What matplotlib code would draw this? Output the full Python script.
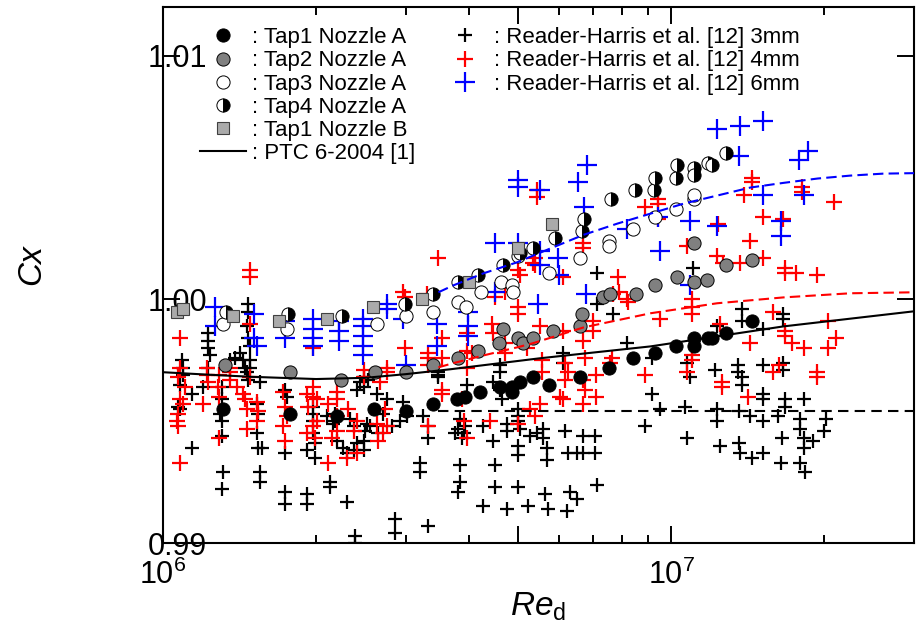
import matplotlib
matplotlib.use("Agg")
import matplotlib.pyplot as plt
from matplotlib.ticker import LogLocator, NullFormatter

plt.rcParams['font.family'] = ['Liberation Sans', 'DejaVu Sans']
plt.rcParams['mathtext.fontset'] = 'custom'
plt.rcParams['mathtext.rm'] = 'Liberation Sans'
plt.rcParams['mathtext.it'] = 'Liberation Sans:italic'

# (Re in millions, Cx)
tap1_a = [(1.31, 0.9955), (1.78, 0.9953), (2.20, 0.9952), (2.60, 0.9955), (3.01, 0.9954),
          (3.40, 0.9957), (3.79, 0.9959), (3.93, 0.9960), (4.20, 0.9962), (4.60, 0.9964),
          (4.86, 0.9964), (4.86, 0.9962), (5.04, 0.9966), (5.34, 0.9968), (5.75, 0.9965),
          (6.62, 0.9968), (7.55, 0.9972), (8.42, 0.9976), (9.30, 0.9978), (10.19, 0.9981),
          (11.06, 0.9981), (11.06, 0.9984), (11.78, 0.9984), (12.04, 0.9984), (12.83, 0.9986),
          (14.43, 0.9991)]
tap2_a = [(1.325, 0.9973), (1.78, 0.9970), (2.24, 0.9967), (2.61, 0.9970), (3.01, 0.9970),
          (3.40, 0.9973), (3.81, 0.9976), (4.17, 0.9979), (4.57, 0.9982), (4.67, 0.9988),
          (4.98, 0.9984), (5.11, 0.9982), (5.34, 0.9984), (5.86, 0.9987), (6.62, 0.9989),
          (6.68, 0.9994), (7.35, 1.0001), (7.58, 1.0002), (8.50, 1.0002), (9.30, 1.0006),
          (10.27, 1.0009), (11.06, 1.0007), (11.73, 1.0008), (11.06, 1.0023), (12.83, 1.0014),
          (14.43, 1.0016)]
tap3_a = [(1.31, 0.9990), (1.755, 0.9988), (2.64, 0.9990), (3.01, 0.9993), (3.40, 0.9995),
          (3.81, 0.9999), (3.95, 0.9997), (4.23, 1.0003), (4.63, 1.0007), (4.86, 1.0006),
          (4.88, 1.0003), (4.98, 1.0018), (5.75, 1.0011), (6.62, 1.0017), (7.55, 1.0024),
          (7.55, 1.0022), (8.42, 1.0029), (9.30, 1.0034), (10.19, 1.0037), (11.06, 1.0041),
          (11.06, 1.0043)]
tap4_a = [(1.33, 0.9995), (1.763, 0.9994), (2.25, 0.9993), (2.99, 0.9998), (3.40, 1.0002),
          (3.81, 1.0007), (4.17, 1.0010), (4.67, 1.0014), (5.04, 1.0019), (5.34, 1.0021),
          (5.89, 1.0025), (6.68, 1.0028), (6.72, 1.0033), (7.62, 1.0041), (8.46, 1.0045),
          (9.26, 1.0045), (9.30, 1.0050), (10.19, 1.0050), (10.27, 1.0055), (11.06, 1.0054),
          (11.06, 1.0051), (11.78, 1.0056), (12.04, 1.0055), (12.83, 1.0060)]
tap1_b = [(1.066, 0.9995), (1.095, 0.9996), (1.374, 0.9993), (1.69, 0.9991), (2.10, 0.9992),
          (2.59, 0.9997), (3.23, 1.0000), (4.00, 1.0007), (4.99, 1.0021), (5.81, 1.0031)]

rh_3mm = [(1.070, 0.9956), (1.080, 0.9965), (1.080, 0.9955), (1.090, 0.9975), (1.095, 0.9972),
          (1.095, 0.9969), (1.140, 0.9961), (1.140, 0.9939), (1.199, 0.9964), (1.226, 0.9986),
          (1.226, 0.9983), (1.226, 0.9980), (1.237, 0.9977), (1.226, 0.9972), (1.307, 0.9964),
          (1.307, 0.9959), (1.295, 0.9953), (1.307, 0.9950), (1.307, 0.9944), (1.313, 0.9929),
          (1.307, 0.9922), (1.355, 0.9975), (1.386, 0.9976), (1.418, 0.9978), (1.437, 0.9975),
          (1.450, 0.9972), (1.463, 0.9970), (1.470, 0.9967), (1.483, 0.9975), (1.483, 0.9972),
          (1.470, 0.9998), (1.470, 0.9995), (1.463, 0.9989), (1.470, 0.9984), (1.483, 0.9981),
          (1.552, 0.9966), (1.532, 0.9957), (1.539, 0.9953), (1.532, 0.9945), (1.539, 0.9939),
          (1.566, 0.9939), (1.552, 0.9929), (1.552, 0.9925), (1.738, 0.9963), (1.755, 0.9960),
          (1.738, 0.9937), (1.738, 0.9921), (1.738, 0.9916), (1.921, 0.9938), (1.921, 0.9920),
          (1.921, 0.9916), (1.973, 0.9956), (1.973, 0.9953), (1.973, 0.9950), (1.973, 0.9945),
          (1.991, 0.9941), (1.991, 0.9935),
          (2.10, 0.9952), (2.16, 0.9949), (2.18, 0.9953), (2.18, 0.9950), (2.20, 0.9942),
          (2.26, 0.9939), (2.30, 0.9937), (2.30, 0.9917), (2.13, 0.9925), (2.13, 0.9923),
          (2.33, 0.9951), (2.37, 0.9948), (2.37, 0.9938), (2.41, 0.9941), (2.41, 0.9963),
          (2.44, 0.9966), (2.48, 0.9968), (2.48, 0.9964), (2.48, 0.9942), (2.48, 0.9938),
          (2.50, 0.9946), (2.52, 0.9949), (2.53, 0.9967), (2.55, 0.9948), (2.64, 0.9961),
          (2.65, 0.9945), (2.71, 0.9953), (2.76, 0.9959), (2.82, 0.9948), (2.86, 0.9910),
          (2.86, 0.9904), (2.93, 0.9950), (2.97, 0.9958), (3.02, 0.9952), (3.20, 0.9933),
          (3.20, 0.9929), (3.25, 0.9952), (3.32, 0.9948), (3.32, 0.9943), (3.32, 0.9907),
          (2.39, 0.9903), (2.39, 0.9900), (3.48, 0.9970), (3.48, 0.9969), (3.48, 0.9968),
          (3.76, 0.9945), (3.81, 0.9947), (3.84, 0.9951), (3.84, 0.9932), (3.84, 0.9925),
          (3.81, 0.9921), (3.90, 0.9945), (3.93, 0.9948),
          (3.97, 0.9965), (4.46, 0.9966), (4.60, 0.9973), (4.60, 0.9970), (4.60, 0.9963),
          (4.64, 0.9959), (5.00, 0.9955), (5.00, 0.9952), (3.88, 0.9943), (4.26, 0.9948),
          (4.46, 0.9942), (4.75, 0.9949), (4.75, 0.9946), (5.00, 0.9950), (5.04, 0.9947),
          (5.00, 0.9940), (5.00, 0.9936), (5.27, 0.9944), (5.44, 0.9945), (5.59, 0.9947),
          (5.59, 0.9943), (5.70, 0.9939), (5.70, 0.9934), (6.18, 0.9946), (6.26, 0.9937),
          (6.52, 0.9937), (6.71, 0.9937), (7.08, 0.9937), (7.08, 0.9944), (6.71, 0.9944),
          (4.50, 0.9932), (4.50, 0.9923), (5.00, 0.9923), (5.64, 0.9920), (6.32, 0.9921),
          (6.52, 0.9918), (7.14, 0.9924), (4.26, 0.9915), (4.75, 0.9914), (5.23, 0.9915),
          (5.73, 0.9914), (6.23, 0.9913), (6.11, 0.9978), (6.11, 0.9974), (8.18, 0.9982),
          (7.14, 0.9998), (7.68, 0.9994), (7.14, 1.0011), (8.89, 0.9948), (9.17, 0.9961),
          (9.17, 0.9976), (9.51, 0.9955), (10.65, 0.9956), (10.74, 0.9943), (10.74, 0.9974),
          (10.89, 0.9968), (11.04, 1.0013), (12.20, 0.9971), (12.31, 0.9955), (12.31, 0.9950),
          (12.48, 0.9940), (12.31, 0.9989), (13.49, 0.9973), (13.49, 0.9970), (13.79, 0.9968),
          (13.79, 0.9965), (13.55, 0.9954), (14.30, 0.9952), (13.55, 0.9941), (13.67, 0.9937),
          (14.43, 0.9935), (15.11, 0.9937), (15.17, 0.9973), (15.17, 0.9961), (15.17, 0.9959),
          (15.17, 0.9950), (15.17, 0.9988), (13.79, 0.9996), (13.79, 0.9991), (16.61, 0.9994),
          (16.61, 0.9992), (16.61, 0.9974), (16.61, 0.9971), (16.76, 0.9959), (16.76, 0.9956),
          (16.17, 0.9952), (18.19, 0.9959), (16.5, 0.9943), (16.4, 0.9933), (17.94, 0.9951),
          (17.94, 0.9947), (18.19, 0.9943), (18.19, 0.9939), (18.95, 0.9942), (19.92, 0.9946),
          (20.1, 0.9951), (17.94, 0.9933), (18.35, 0.9929)]

rh_4mm = [(1.080, 0.9984), (1.080, 0.9972), (1.070, 0.9968), (1.105, 0.9964), (1.080, 0.9959),
          (1.095, 0.9957), (1.070, 0.9953), (1.066, 0.9950), (1.070, 0.9948), (1.080, 0.9933),
          (1.199, 0.9957), (1.220, 0.9972), (1.220, 0.9969), (1.226, 0.9966), (1.289, 0.9969),
          (1.283, 0.9964), (1.289, 0.9960), (1.289, 0.9943), (1.355, 0.9972), (1.355, 0.9970),
          (1.355, 0.9967), (1.399, 0.9964), (1.437, 0.9961), (1.450, 0.9959), (1.463, 0.9955),
          (1.463, 0.9947), (1.483, 1.0012), (1.483, 1.0009), (1.483, 0.9990), (1.483, 0.9968),
          (1.532, 0.9958), (1.539, 0.9954), (1.532, 0.9950), (1.722, 0.9962), (1.738, 0.9956),
          (1.755, 0.9952), (1.722, 0.9948), (1.738, 0.9942), (1.921, 0.9961), (1.930, 0.9956),
          (1.921, 0.9945), (1.973, 0.9980), (1.973, 0.9964), (1.973, 0.9960), (1.973, 0.9948),
          (1.991, 0.9943), (2.009, 0.9950),
          (2.009, 0.9959), (2.11, 0.9957), (2.20, 0.9962), (2.20, 0.9959), (2.20, 0.9952),
          (2.20, 0.9946), (2.15, 0.9943), (2.11, 0.9933), (2.30, 0.9935), (2.31, 0.9955),
          (2.41, 0.9950), (2.41, 0.9937), (2.37, 0.9946), (2.48, 0.9971), (2.48, 0.9968),
          (2.64, 0.9949), (2.65, 0.9942), (2.67, 0.9966), (2.73, 0.9955), (2.76, 0.9972),
          (2.76, 0.9970), (2.76, 0.9948), (2.71, 0.9945), (2.97, 1.0003), (2.99, 1.0001),
          (3.31, 1.0002), (2.99, 0.9980), (3.32, 0.9978), (3.32, 0.9976), (3.32, 0.9973),
          (3.32, 0.9948), (3.48, 1.0017), (3.54, 0.9984), (3.54, 0.9976), (3.54, 0.9963),
          (3.54, 0.9961), (3.88, 0.9959), (3.90, 0.9950), (3.97, 0.9979), (3.97, 0.9972),
          (3.97, 0.9943),
          (4.06, 0.9978), (3.97, 0.9986), (4.44, 0.9990), (4.46, 0.9986), (4.40, 0.9950),
          (4.70, 1.0003), (4.50, 1.0001), (5.00, 0.9997), (5.00, 0.9994), (4.70, 0.9982),
          (4.70, 0.9978), (4.98, 0.9949), (5.00, 1.0012), (5.04, 1.0010), (5.34, 1.0015),
          (5.39, 1.0017), (5.39, 1.0014), (5.44, 1.0045), (5.44, 1.0042), (5.20, 0.9980),
          (5.27, 0.9955), (5.39, 0.9952), (5.52, 0.9989), (5.52, 0.9957), (5.57, 0.9975),
          (5.57, 0.9970), (6.04, 0.9960), (6.11, 1.0009), (6.11, 0.9987), (6.13, 0.9959),
          (6.18, 0.9974), (6.18, 0.9967), (6.26, 0.9970), (6.71, 1.0023), (6.71, 1.0021),
          (6.71, 0.9983), (6.71, 0.9967), (6.71, 0.9957), (6.77, 0.9976), (6.77, 0.9963),
          (7.02, 0.9991), (7.02, 0.9987), (7.09, 0.9969), (7.09, 0.9960), (7.58, 0.9974),
          (7.65, 0.9976), (7.69, 1.0002), (7.86, 1.0009), (7.90, 1.0003), (8.18, 1.0000),
          (8.22, 0.9999), (8.89, 1.0038), (9.43, 1.0041), (9.43, 1.0039), (9.43, 1.0033),
          (8.89, 0.9969), (9.51, 0.9992), (10.74, 1.0022), (10.74, 0.9970), (11.0, 1.0000),
          (11.0, 0.9997), (11.0, 0.9994), (11.0, 0.9977), (11.0, 0.9975), (12.31, 1.0018),
          (12.36, 1.0031), (12.48, 0.9990), (12.59, 0.9966), (12.59, 0.9964), (12.65, 1.0015),
          (13.67, 1.0015), (13.86, 1.0043), (14.17, 0.9960), (14.30, 1.0024), (14.30, 0.9982),
          (14.43, 1.0050), (14.43, 1.0048), (15.17, 1.0034), (15.17, 1.0017), (15.87, 0.9995),
          (15.87, 0.9970), (16.3, 0.9973), (16.6, 1.0033), (16.76, 1.0013), (16.76, 1.0011),
          (16.76, 0.9987), (16.76, 0.9985), (17.3, 0.9982), (17.6, 1.0011), (18.1, 1.0046),
          (18.1, 1.0044), (18.2, 0.9980), (19.3, 1.0010), (19.3, 0.9970), (19.3, 0.9968),
          (20.3, 0.9991), (20.3, 0.9980), (20.9, 1.0040), (21.1, 0.9984)]

rh_6mm = [(1.266, 0.9997), (1.266, 0.9989), (1.51, 0.9994), (1.51, 0.9984), (1.53, 0.9981),
          (1.74, 0.9991), (1.74, 0.9984), (1.973, 0.9992), (1.973, 0.9988), (1.973, 0.9984),
          (1.973, 0.9981), (2.22, 0.9991), (2.22, 0.9987), (2.22, 0.9983), (2.47, 0.9992),
          (2.47, 0.9989), (2.47, 0.9985), (2.47, 0.9981), (2.47, 0.9977), (2.76, 0.9998),
          (2.76, 0.9996), (2.97, 0.9992), (3.01, 0.9973), (3.46, 0.9990), (3.46, 0.9981),
          (3.98, 0.9995), (3.98, 0.9989), (3.98, 0.9985), (4.50, 1.0023), (4.50, 1.0003),
          (5.00, 1.0049), (5.00, 1.0046), (5.52, 1.0045), (5.00, 1.0023), (5.52, 1.0020),
          (5.52, 1.0014), (5.47, 0.9998), (5.98, 1.0017), (6.01, 1.0010), (6.55, 1.0048),
          (6.83, 1.0055), (6.74, 1.0038), (6.80, 1.0002), (8.18, 1.0029), (9.43, 1.0034),
          (9.51, 1.0020), (10.89, 1.0032), (10.89, 1.0006), (12.31, 1.0030), (12.31, 1.0070),
          (13.67, 1.0071), (15.11, 1.0073), (13.55, 1.0059), (15.11, 1.0043), (16.39, 1.0032),
          (16.39, 1.0026), (17.78, 1.0057), (18.6, 1.0061), (18.19, 1.0043)]

ptc_re = [1.0, 1.25, 1.5, 2.0, 2.5, 3.0, 3.67, 5.5, 9.1, 16.6, 30.0]
ptc_cx = [0.99701, 0.99690, 0.99682, 0.99673, 0.99678, 0.99693, 0.99713, 0.99758, 0.99807, 0.99889, 0.99951]

rh6_fit_re = [3.48, 3.72, 4.27, 4.97, 5.78, 6.72, 7.83, 9.1, 10.57, 12.3, 14.3, 16.6, 19.4, 22.5, 26.1, 30.0]
rh6_fit_cx = [1.00029, 1.00057, 1.00107, 1.00152, 1.00209, 1.00265, 1.00311, 1.00352, 1.00393,
              1.00426, 1.00459, 1.00478, 1.00496, 1.00508, 1.00516, 1.00518]
rh4_fit_re = [3.48, 3.72, 4.27, 4.97, 5.34, 6.72, 9.1, 12.3, 16.6, 22.5, 30.0]
rh4_fit_cx = [0.99721, 0.99738, 0.99770, 0.99803, 0.99820, 0.99885, 0.99943, 0.99984, 1.00008, 1.00025, 1.00029]
rh3_fit_re = [3.48, 30.0]
rh3_fit_cx = [0.9954, 0.9954]


def split(pts):
    return [p[0] * 1e6 for p in pts], [p[1] for p in pts]


fig = plt.figure(figsize=(9.2, 6.34), dpi=100)
ax = fig.add_axes([0.1772, 0.1435, 0.8163, 0.8455])

h_rh3, = ax.plot(*split(rh_3mm), ls='none', marker='+', ms=9.5, mew=1.6, color='black',
                 label=': Reader-Harris et al. [12] 3mm', zorder=2)
h_rh4, = ax.plot(*split(rh_4mm), ls='none', marker='+', ms=11, mew=1.6, color='#ff0000',
                 label=': Reader-Harris et al. [12] 4mm', zorder=2)
h_rh6, = ax.plot(*split(rh_6mm), ls='none', marker='+', ms=15, mew=1.6, color='#0000ff',
                 label=': Reader-Harris et al. [12] 6mm', zorder=2)

h_t1, = ax.plot(*split(tap1_a), ls='none', marker='o', ms=9.5, mfc='black', mec='black',
                mew=0.7, label=': Tap1 Nozzle A', zorder=3)
h_t2, = ax.plot(*split(tap2_a), ls='none', marker='o', ms=9.5, mfc='#808080', mec='black',
                mew=0.7, label=': Tap2 Nozzle A', zorder=3)
h_t3, = ax.plot(*split(tap3_a), ls='none', marker='o', ms=9.5, mfc='white', mec='black',
                mew=0.7, label=': Tap3 Nozzle A', zorder=3)
h_t4, = ax.plot(*split(tap4_a), ls='none', marker='o', ms=9.5, fillstyle='right',
                mfc='black', markerfacecoloralt='white', mec='black', mew=0.7,
                label=': Tap4 Nozzle A', zorder=3)
h_b1, = ax.plot(*split(tap1_b), ls='none', marker='s', ms=8, mfc='#aaaaaa', mec='#404040',
                mew=0.8, label=': Tap1 Nozzle B', zorder=3)

h_ptc, = ax.plot([r * 1e6 for r in ptc_re], ptc_cx, color='black', lw=1.5,
                 label=': PTC 6-2004 [1]', zorder=4)
ax.plot([r * 1e6 for r in rh6_fit_re], rh6_fit_cx, color='#0000ff', lw=1.5, dashes=(5, 2.5), zorder=4)
ax.plot([r * 1e6 for r in rh4_fit_re], rh4_fit_cx, color='#ff0000', lw=1.5, dashes=(5, 2.5), zorder=4)
ax.plot([r * 1e6 for r in rh3_fit_re], rh3_fit_cx, color='black', lw=1.5, dashes=(5, 3), zorder=4)

ax.set_xscale('log')
ax.set_xlim(1e6, 3e7)
ax.set_ylim(0.99, 1.012)
ax.set_xticks([1e6, 5e6, 1e7])
ax.set_xticklabels([r'$10^{6}$', '', r'$10^{7}$'])
ax.xaxis.set_minor_locator(LogLocator(base=10, subs=[2, 3, 4, 6, 7, 8, 9]))
ax.xaxis.set_minor_formatter(NullFormatter())
ax.set_yticks([0.99, 1.00, 1.01])
ax.set_yticklabels(['0.99', '1.00', '1.01'])
ax.tick_params(which='both', direction='in', top=True, right=True, width=1.4)
ax.tick_params(which='major', length=12)
ax.tick_params(which='minor', length=6)
ax.tick_params(axis='y', labelsize=22, pad=-32)
ax.tick_params(axis='x', labelsize=22, pad=12)
for s in ax.spines.values():
    s.set_linewidth(1.5)

ax.set_ylabel('Cx', fontsize=24, style='italic')
ax.yaxis.set_label_coords(-0.154, 0.52)
ax.set_xlabel(r'$\mathit{Re}_{\mathrm{d}}$', fontsize=24)
ax.xaxis.set_label_coords(0.5, -0.088)

leg_kw = dict(loc='upper left', frameon=False, fontsize=16, handlelength=2.1,
              handletextpad=0.27, labelspacing=0.1, borderpad=0, borderaxespad=0, numpoints=1)
leg1 = ax.legend(handles=[h_t1, h_t2, h_t3, h_t4, h_b1, h_ptc], bbox_to_anchor=(0.049, 0.9625), **leg_kw)
ax.add_artist(leg1)
ax.legend(handles=[h_rh3, h_rh4, h_rh6], bbox_to_anchor=(0.371, 0.9625), **leg_kw)

fig.savefig('out.png', dpi=100)
